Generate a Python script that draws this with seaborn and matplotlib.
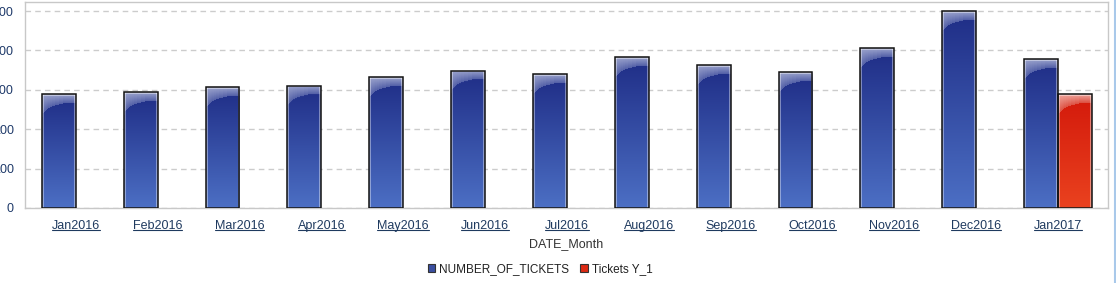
import numpy as np
import pandas as pd
import matplotlib
matplotlib.use("Agg")
import matplotlib.pyplot as plt
import seaborn as sns
from matplotlib.patches import Patch
from matplotlib.lines import Line2D
from matplotlib.colors import to_rgb

# ---------------- data ----------------
months = ["Jan2016", "Feb2016", "Mar2016", "Apr2016", "May2016", "Jun2016", "Jul2016",
          "Aug2016", "Sep2016", "Oct2016", "Nov2016", "Dec2016", "Jan2017"]
tickets = [289, 294, 307, 310, 332, 348, 340, 383, 363, 345, 406, 500, 378]
y1_months = ["Jan2017"]
y1_tickets = [289]
series_names = ["NUMBER_OF_TICKETS", "Tickets Y_1"]
y_ticks = [0, 100, 200, 300, 400, 500]

df = pd.DataFrame({
    "DATE_Month": months + y1_months,
    "value": tickets + y1_tickets,
    "series": [series_names[0]] * len(months) + [series_names[1]] * len(y1_months),
})

# ---------------- style ----------------
sns.set_theme(style="white")
plt.rcParams["font.family"] = ["Liberation Sans", "DejaVu Sans"]

BLUE = "#3a4fa0"
RED = "#dc2a14"
grad = {
    BLUE: dict(top="#1f2d86", bot="#4c6fc4", hl_top="#9aa2cc", hl_bot="#5663a9"),
    RED: dict(top="#d3190b", bot="#ea421f", hl_top="#eea49b", hl_bot="#de5446"),
}

W, H = 1116, 283
fig = plt.figure(figsize=(W / 100, H / 100), dpi=100)
ax = fig.add_axes([25 / W, 75 / H, (1108 - 25) / W, (208 - 2) / H])

sns.barplot(data=df, x="DATE_Month", y="value", hue="series", order=months,
            hue_order=series_names, palette=[BLUE, RED], width=0.83, dodge=True,
            saturation=1, ax=ax, legend=False, edgecolor="#111111", linewidth=1.1,
            err_kws={"linewidth": 0})

ax.set_xlim(-0.62, 12.61)
ax.set_ylim(0, 523)
ax.set_yticks(y_ticks)
ax.set_yticklabels([str(v) for v in y_ticks])

# ---------------- gradient fills on bars ----------------
px_x = ax.bbox.width / (ax.get_xlim()[1] - ax.get_xlim()[0])
px_y = ax.bbox.height / (ax.get_ylim()[1] - ax.get_ylim()[0])
for p in list(ax.patches):
    h = p.get_height()
    if not np.isfinite(h) or h <= 0:
        continue
    fc = p.get_facecolor()[:3]
    key = BLUE if np.allclose(fc, to_rgb(BLUE), atol=0.02) else RED
    g = grad[key]
    x0, w = p.get_x(), p.get_width()
    nh = max(int(round(h * px_y)), 2)
    nw = max(int(round(w * px_x)), 2)
    t = np.linspace(0, 1, nh)[:, None, None]
    top, bot = np.array(to_rgb(g["top"])), np.array(to_rgb(g["bot"]))
    img = top * (1 - t) + bot * t
    img = np.repeat(img, nw, axis=1)
    hl_top, hl_bot = np.array(to_rgb(g["hl_top"])), np.array(to_rgb(g["hl_bot"]))
    for j in range(nw):
        u = j / (nw - 1)
        depth = int(9 + 14 * (1 - np.sqrt(max(0.0, 1 - (1 - u) ** 2))))
        depth = min(depth, nh)
        s = np.linspace(0, 1, depth)[:, None]
        img[:depth, j, :] = hl_top * (1 - s) + hl_bot * s
    # light inner border
    for sl in [(slice(None), slice(0, 2)), (slice(None), slice(nw - 2, nw)), (slice(0, 2), slice(None))]:
        img[sl] = img[sl] * 0.6 + 0.4
    img = np.clip(img, 0, 1)
    im = ax.imshow(img, extent=[x0, x0 + w, 0, h], aspect="auto", origin="upper",
                   interpolation="bilinear", zorder=2.5)
    im.set_clip_path(p)
    p.set_facecolor("none")
    p.set_zorder(3)

ax.set_xlim(-0.62, 12.61)
ax.set_ylim(0, 523)

# ---------------- axes styling ----------------
ax.set_axisbelow(True)
ax.yaxis.grid(True, linestyle=(0, (4, 3)), color="#cccccc", linewidth=1)
ax.xaxis.grid(False)
for s in ax.spines.values():
    s.set_color("#c8c8c8")
    s.set_linewidth(1)
ax.tick_params(axis="y", length=5, color="#c8c8c8", width=1, direction="out", pad=3,
               labelsize=9, labelcolor="#1f3a6a")
ax.tick_params(axis="x", length=5, color="#c8c8c8", width=1, direction="out", pad=3.5,
               labelsize=9, labelcolor="#1f3a5f")
ax.set_ylabel("")
ax.set_xlabel("DATE_Month", fontsize=9, color="#333333", labelpad=4.5)

# ---------------- legend ----------------
handles = [Patch(facecolor=BLUE, edgecolor="#333333", linewidth=0.8),
           Patch(facecolor=RED, edgecolor="#333333", linewidth=0.8)]
fig.legend(handles, series_names, loc="center", bbox_to_anchor=(540 / W, 14 / H), ncol=2,
           frameon=False, fontsize=8.5, handlelength=0.65, handleheight=0.65,
           handletextpad=0.35, columnspacing=0.9, labelcolor="#222222")

# right window edge line
fig.add_artist(Line2D([1115 / W, 1115 / W], [0, 1], transform=fig.transFigure,
                      color="#a9c9ea", linewidth=1.5))

# underline x tick labels
fig.canvas.draw()
renderer = fig.canvas.get_renderer()
for lbl in ax.get_xticklabels():
    bb = lbl.get_window_extent(renderer)
    yy = (bb.y0 + 1.5) / fig.bbox.height
    fig.add_artist(Line2D([bb.x0 / fig.bbox.width, bb.x1 / fig.bbox.width], [yy, yy],
                          transform=fig.transFigure, color="#1f3a5f", linewidth=0.8))

fig.savefig("out.png", dpi=100)
